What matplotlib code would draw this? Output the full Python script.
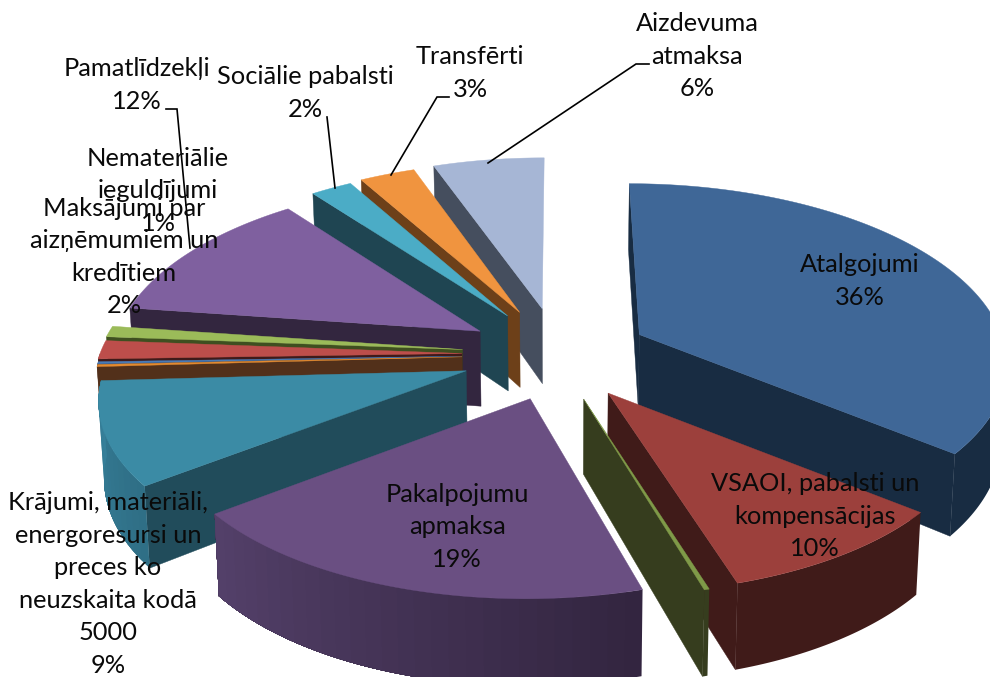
import numpy as np
import matplotlib
matplotlib.use("Agg")
import matplotlib.pyplot as plt
from matplotlib.patches import Polygon

# Slice values, clockwise from 12 o'clock (labels only show the rounded percent)
names = ["Atalgojumi", "VSAOI", "Olive", "Pakalpojumu", "Krajumi", "Thin orange", "Thin blue",
         "Maksajumi", "Nematerialie", "Pamatlidzekli", "Socialie", "Transferti", "Aizdevuma"]
values = [35.9, 9.4, 0.2, 19.0, 9.6, 0.2, 0.2, 1.7, 1.0, 12.3, 2.1, 2.8, 5.6]

top_colors = ["#3F6797", "#9C403C", "#7F9A48", "#6A4F82", "#3B8BA5", "#E48A2F", "#4A7AB5",
              "#BD4E4B", "#9BBB59", "#7F609F", "#4BACC6", "#F0943F", "#A6B6D5"]
ray_colors = ["#182C42", "#401B19", "#363D1E", "#33263F", "#214C5B", "#52301A", "#1D2F45",
              "#3F1A1A", "#3F4F20", "#33263F", "#1F4552", "#6D4019", "#454E5E"]
rim_left = ["#182C42", "#401B19", "#363D1E", "#54406A", "#36809A", "#52301A", "#1D2F45",
            "#3F1A1A", "#3F4F20", "#33263F", "#1F4552", "#6D4019", "#454E5E"]
rim_right = ["#182C42", "#401B19", "#363D1E", "#32253F", "#2F6E85", "#52301A", "#1D2F45",
             "#3F1A1A", "#3F4F20", "#33263F", "#1F4552", "#6D4019", "#454E5E"]

# Back to front
draw_order = [12, 11, 10, 9, 8, 7, 6, 5, 4, 0, 1, 2, 3]

labels = [
    ("Atalgojumi\n36%", 860, 281),
    ("VSAOI, pabalsti un\nkompensācijas\n10%", 815, 516),
    ("Pakalpojumu\napmaksa\n19%", 457, 527),
    ("Krājumi, materiāli,\nenergoresursi un\npreces ko\nneuzskaita kodā\n5000\n9%", 108, 584),
    ("Maksājumi par\naizņēmumiem un\nkredītiem\n2%", 124, 257),
    ("Nemateriālie\nieguldījumi\n1%", 158, 191),
    ("Pamatlīdzekļi\n12%", 137, 85),
    ("Sociālie pabalsti\n2%", 305, 93),
    ("Transfērti\n3%", 470, 73),
    ("Aizdevuma\natmaksa\n6%", 697, 56),
]

leaders = [
    ([488, 636, 649], [163, 64, 64]),
    ([391, 437, 449], [175, 97, 97]),
    ([335, 327], [188, 117]),
    ([166, 177, 190], [109, 109, 248]),
]

# Pie geometry in pixels
cx, cy = 558, 354.5
rx, ry = 362, 172
ex, ey = 90, 46.5
# extra pull-out of the left hand slices
ex_extra = [0, 0, 0, 0, 8, 6, 6, 6, 6, 0, 0, 0, 0]
persp = 0.14
depth = 75
shrink = 0.988


def project(theta, ax0, ay0):
    x = np.sin(theta)
    y = -np.cos(theta)
    s = 1 / (1 - persp * y)
    return cx + s * (ax0 - cx + rx * x), ay0 + ry * y * s, s


def drop(px, py, s):
    return cx + (px - cx) * shrink, py + depth * s


def to_rgb(c):
    return np.array(matplotlib.colors.to_rgb(c))


fig = plt.figure(figsize=(9.9, 6.77), dpi=100)
ax = fig.add_axes([0, 0, 1, 1])
ax.set_xlim(0, 990)
ax.set_ylim(677, 0)
ax.axis("off")

fractions = np.array(values) / sum(values)
edges = np.concatenate([[0], np.cumsum(fractions)]) * 2 * np.pi

for i in draw_order:
    t0, t1 = edges[i], edges[i + 1]
    mid = (t0 + t1) / 2
    ax0 = cx + (ex + ex_extra[i]) * np.sin(mid)
    ay0 = cy - ey * np.cos(mid)
    bx0, by0 = drop(ax0, ay0, 1)

    # flat walls along the two cut edges
    for t, show in [(t0, np.pi <= t0 % (2 * np.pi) or t0 == 0), (t1, t1 < np.pi)]:
        if show:
            px, py, s = project(t, ax0, ay0)
            qx, qy = drop(px, py, s)
            ax.add_patch(Polygon([(ax0, ay0), (px, py), (qx, qy), (bx0, by0)],
                                 closed=True, fc=ray_colors[i], ec=ray_colors[i], lw=0.3))

    # outer rim, only the part facing the viewer, shaded along the arc
    lo, hi = max(t0, np.pi / 2), min(t1, 3 * np.pi / 2)
    if hi > lo:
        steps = 1 if rim_left[i] == rim_right[i] else max(2, int((hi - lo) * 24))
        ts = np.linspace(lo, hi, 40 * steps + 1)
        for k in range(steps):
            # each band runs on to the far end, so no seams show between bands
            f = (k + 0.5) / steps
            col = to_rgb(rim_right[i]) * (1 - f) + to_rgb(rim_left[i]) * f
            arc = ts[40 * k:]
            p = [project(t, ax0, ay0) for t in arc]
            q = [drop(*v) for v in p]
            pts = [v[:2] for v in p] + q[::-1]
            ax.add_patch(Polygon(pts, closed=True, fc=col, ec="none"))

    # top face
    ts = np.linspace(t0, t1, max(3, int((t1 - t0) * 80)))
    pts = [(ax0, ay0)] + [project(t, ax0, ay0)[:2] for t in ts]
    ax.add_patch(Polygon(pts, closed=True, fc=top_colors[i], ec=top_colors[i], lw=0.3))

for xs, ys in leaders:
    ax.plot(xs, ys, color="black", lw=1.2, solid_joinstyle="miter")

for text, x, y in labels:
    ax.text(x, y, text, ha="center", va="center", fontsize=18.3, family="Lato",
            linespacing=1.5, color="#0A0A0A")

fig.savefig("out.png", dpi=100)
